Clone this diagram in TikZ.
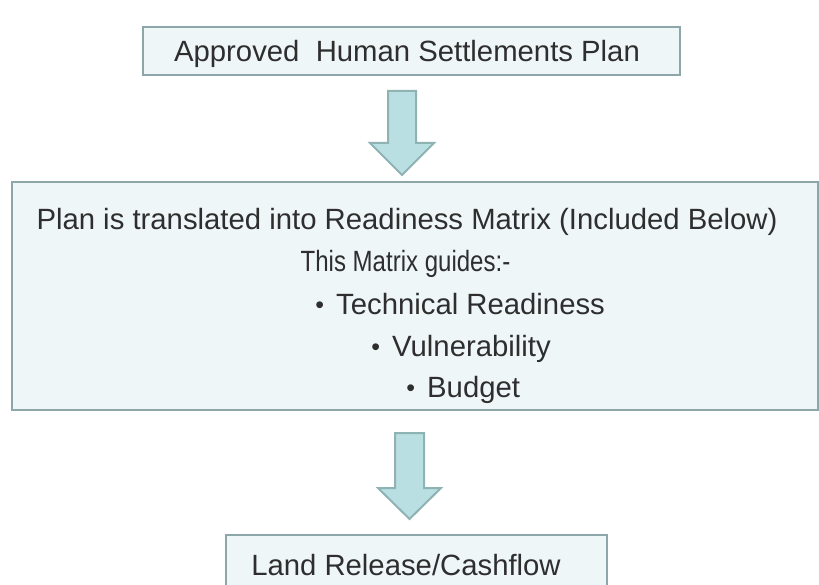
\documentclass[tikz,border=0pt]{standalone}
\usepackage{fontspec}
\usepackage{graphicx}
\setmainfont{Liberation Sans}
\newcommand{\mybul}{\llap{\raisebox{0.5pt}{\fontsize{25}{25}\selectfont\textbullet}\hspace{12pt}}}
\begin{document}
\begin{tikzpicture}[x=1pt,y=-1pt,
  box/.style={draw=boxline,line width=2.6pt,fill=boxfill,inner sep=0pt},
  txt/.style={text=txtcol,font=\fontsize{29.3}{33}\selectfont,anchor=base,inner sep=0pt},
  btxt/.style={txt,anchor=base west},
  bigarrow/.style={draw=arrline,line width=2pt,fill=arrfill,line join=miter}]
\definecolor{boxline}{HTML}{8CA6A9}
\definecolor{boxfill}{HTML}{EFF6F8}
\definecolor{arrline}{HTML}{8FB2B3}
\definecolor{arrfill}{HTML}{B9DFE3}
\definecolor{txtcol}{HTML}{2E2E2E}
\useasboundingbox (0,0) rectangle (819,585);
\clip (0,0) rectangle (819,585);
% boxes
\draw[box] (143,27) rectangle (680,75);
\node[txt] (t1) at (407,62) {Approved\ \ Human Settlements Plan};
\draw[box] (12,182) rectangle (818,410);
\node[txt] (l1) at (407,230) {Plan is translated into Readiness Matrix (Included Below)};
\node[txt] (l2) at (405.5,272) {\scalebox{0.82}[1]{This Matrix guides:-}};
\node[btxt] (l3) at (336,314) {\mybul Technical Readiness};
\node[btxt] (l4) at (392,356) {\mybul Vulnerability};
\node[btxt] (l5) at (427,397) {\mybul Budget};
\draw[box] (226,535) rectangle (607,620);
\node[txt] (t3) at (406,575) {Land Release/Cashflow};
% arrows
\draw[bigarrow] (388,91) -- (416,91) -- (416,143) -- (434,143) -- (402,175) -- (370,143) -- (388,143) -- cycle;
\draw[bigarrow] (395,433) -- (424,433) -- (424,488) -- (441,488) -- (409.5,519) -- (378,488) -- (395,488) -- cycle;
\end{tikzpicture}
\end{document}
